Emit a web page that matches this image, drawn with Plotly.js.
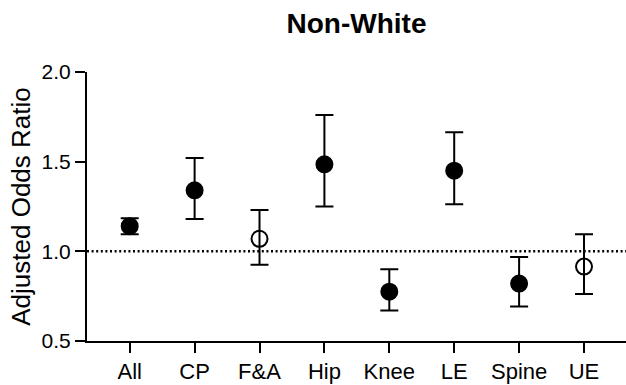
<!DOCTYPE html>
<html>
<head>
<meta charset="utf-8">
<script src="https://cdn.plot.ly/plotly-3.0.1.min.js"></script>
<style>html,body{margin:0;padding:0;background:#fff;}#chart{width:626px;height:385px;}</style>
</head>
<body>
<div id="chart"></div>
<script>
const categories = ["All", "CP", "F&A", "Hip", "Knee", "LE", "Spine", "UE"];
const oddsRatio = [1.14, 1.34, 1.07, 1.485, 0.775, 1.45, 0.82, 0.915];
const lowerCI = [1.095, 1.18, 0.925, 1.25, 0.67, 1.262, 0.692, 0.762];
const upperCI = [1.185, 1.52, 1.23, 1.76, 0.90, 1.664, 0.968, 1.095];
const significant = [true, true, false, true, true, true, true, false];
const yTicks = [0.5, 1.0, 1.5, 2.0];
const yTickText = ["0.5", "1.0", "1.5", "2.0"];

const xIdx = categories.map((c, i) => i);
const font = "Arial, 'Liberation Sans', sans-serif";

const trace = {
  type: "scatter",
  mode: "markers",
  x: xIdx,
  y: oddsRatio,
  marker: {
    size: 16,
    color: "#000",
    symbol: significant.map(s => s ? "circle" : "circle-open"),
    line: {color: "#000", width: 2}
  },
  error_y: {
    type: "data",
    symmetric: false,
    array: upperCI.map((u, i) => u - oddsRatio[i]),
    arrayminus: lowerCI.map((l, i) => oddsRatio[i] - l),
    color: "#000",
    thickness: 2,
    width: 9
  },
  hoverinfo: "skip",
  showlegend: false
};

const layout = {
  width: 626,
  height: 385,
  margin: {l: 87, r: 0, t: 72, b: 44},
  paper_bgcolor: "#fff",
  plot_bgcolor: "#fff",
  font: {family: font, color: "#000"},
  title: {
    text: "<b>Non-White</b>",
    font: {family: font, size: 28, color: "#000"},
    x: 0.5, xref: "paper",
    y: 1 - 23 / 385, yref: "container", yanchor: "middle"
  },
  xaxis: {
    range: [-0.658, 7.647],
    tickmode: "array",
    tickvals: xIdx,
    ticktext: categories,
    showline: true, linecolor: "#000", linewidth: 2,
    ticks: "outside", ticklen: 10, tickwidth: 2, tickcolor: "#000",
    tickfont: {family: font, size: 22, color: "#000"},
    showgrid: false, zeroline: false
  },
  yaxis: {
    range: [0.5, 2.0],
    tickmode: "array",
    tickvals: yTicks,
    ticktext: yTickText,
    showline: true, linecolor: "#000", linewidth: 2,
    ticks: "outside", ticklen: 10, tickwidth: 2, tickcolor: "#000",
    tickfont: {family: font, size: 21, color: "#000"},
    showgrid: false, zeroline: false,
    title: {text: "Adjusted Odds Ratio", font: {family: font, size: 26, color: "#000"}, standoff: 3}
  },
  shapes: [{
    type: "line", xref: "paper", yref: "y",
    x0: 0, x1: 1, y0: 1, y1: 1,
    line: {color: "#000", width: 2.5, dash: "2px,2.6px"},
    layer: "below"
  }]
};

Plotly.newPlot("chart", [trace], layout, {displayModeBar: false, staticPlot: true});
</script>
</body>
</html>
